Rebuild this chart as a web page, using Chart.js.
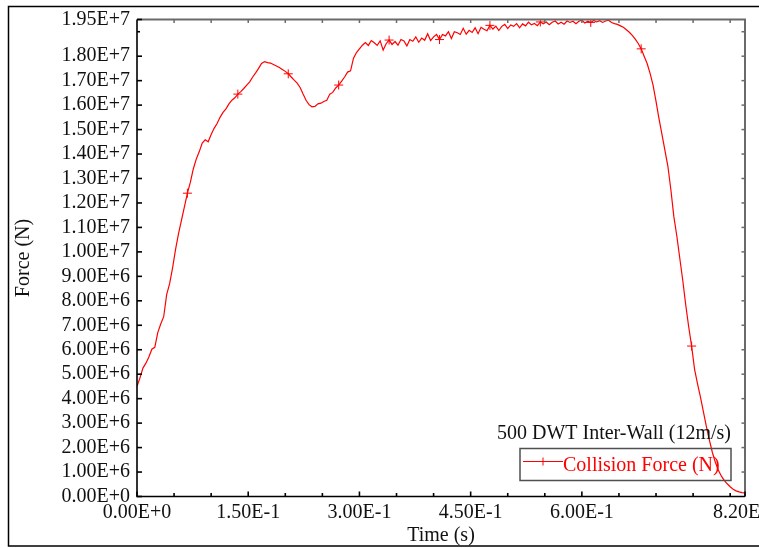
<!DOCTYPE html>
<html>
<head>
<meta charset="utf-8">
<title>500 DWT Inter-Wall (12m/s)</title>
<script src="https://cdn.jsdelivr.net/npm/chart.js@4.4.1/dist/chart.umd.min.js"></script>
<style>
  html, body { margin: 0; padding: 0; background: #fff; }
  canvas { display: block; }
</style>
</head>
<body>
<canvas id="chart" width="759" height="548"></canvas>
<script>
// Sample times (s)
const time = [
  0, 0.004, 0.008, 0.012, 0.016, 0.02, 0.024, 0.028, 0.032, 0.036,
  0.04, 0.044, 0.048, 0.052, 0.056, 0.06, 0.064, 0.068, 0.072, 0.076,
  0.08, 0.084, 0.088, 0.092, 0.096, 0.1, 0.104, 0.108, 0.112, 0.116,
  0.12, 0.124, 0.128, 0.132, 0.136, 0.14, 0.144, 0.148, 0.152, 0.156,
  0.16, 0.164, 0.168, 0.172, 0.176, 0.18, 0.184, 0.188, 0.192, 0.196,
  0.2, 0.204, 0.208, 0.212, 0.216, 0.22, 0.224, 0.228, 0.232, 0.236,
  0.24, 0.244, 0.248, 0.252, 0.256, 0.26, 0.264, 0.268, 0.272, 0.276,
  0.28, 0.284, 0.288, 0.292, 0.296, 0.3, 0.304, 0.308, 0.312, 0.316,
  0.32, 0.324, 0.328, 0.332, 0.336, 0.34, 0.344, 0.348, 0.352, 0.356,
  0.36, 0.364, 0.368, 0.372, 0.376, 0.38, 0.384, 0.388, 0.392, 0.396,
  0.4, 0.404, 0.408, 0.412, 0.416, 0.42, 0.424, 0.428, 0.432, 0.436,
  0.44, 0.444, 0.448, 0.452, 0.456, 0.46, 0.464, 0.468, 0.472, 0.476,
  0.48, 0.484, 0.488, 0.492, 0.496, 0.5, 0.504, 0.508, 0.512, 0.516,
  0.52, 0.524, 0.528, 0.532, 0.536, 0.54, 0.544, 0.548, 0.552, 0.556,
  0.56, 0.564, 0.568, 0.572, 0.576, 0.58, 0.584, 0.588, 0.592, 0.596,
  0.6, 0.604, 0.608, 0.612, 0.616, 0.62, 0.624, 0.628, 0.632, 0.636,
  0.64, 0.644, 0.648, 0.652, 0.656, 0.66, 0.664, 0.668, 0.672, 0.676,
  0.68, 0.684, 0.688, 0.692, 0.696, 0.7, 0.704, 0.708, 0.712, 0.716,
  0.72, 0.724, 0.728, 0.732, 0.736, 0.74, 0.744, 0.748, 0.752, 0.756,
  0.76, 0.764, 0.768, 0.772, 0.776, 0.78, 0.784, 0.788, 0.792, 0.796,
  0.8, 0.804, 0.808, 0.812, 0.816, 0.82
];

// Collision force (N)
const collisionForce = [
  4.50e6, 4.85e6, 5.25e6, 5.45e6, 5.70e6, 6.02e6, 6.10e6, 6.70e6, 7.05e6, 7.35e6,
  8.25e6, 8.70e6, 9.35e6, 10.10e6, 10.75e6, 11.30e6, 11.85e6, 12.40e6, 12.85e6, 13.40e6,
  13.80e6, 14.10e6, 14.45e6, 14.58e6, 14.50e6, 14.80e6, 15.05e6, 15.25e6, 15.50e6, 15.70e6,
  15.85e6, 16.05e6, 16.20e6, 16.30e6, 16.45e6, 16.55e6, 16.68e6, 16.82e6, 16.95e6, 17.15e6,
  17.32e6, 17.50e6, 17.70e6, 17.78e6, 17.74e6, 17.72e6, 17.66e6, 17.60e6, 17.54e6, 17.46e6,
  17.38e6, 17.28e6, 17.15e6, 17.02e6, 16.90e6, 16.72e6, 16.45e6, 16.20e6, 16.02e6, 15.93e6,
  15.95e6, 16.05e6, 16.08e6, 16.15e6, 16.20e6, 16.45e6, 16.52e6, 16.70e6, 16.82e6, 16.98e6,
  17.15e6, 17.35e6, 17.40e6, 17.92e6, 18.15e6, 18.30e6, 18.45e6, 18.56e6, 18.44e6, 18.64e6,
  18.55e6, 18.44e6, 18.63e6, 18.25e6, 18.51e6, 18.66e6, 18.48e6, 18.60e6, 18.45e6, 18.68e6,
  18.62e6, 18.42e6, 18.68e6, 18.61e6, 18.79e6, 18.57e6, 18.74e6, 18.65e6, 18.92e6, 18.64e6,
  18.79e6, 18.89e6, 18.68e6, 18.89e6, 18.83e6, 19.00e6, 18.72e6, 19.00e6, 18.96e6, 18.89e6,
  19.14e6, 18.90e6, 19.06e6, 18.97e6, 19.16e6, 18.92e6, 19.18e6, 19.10e6, 19.04e6, 19.26e6,
  19.11e6, 19.23e6, 19.05e6, 19.22e6, 19.30e6, 19.13e6, 19.28e6, 19.22e6, 19.33e6, 19.16e6,
  19.32e6, 19.24e6, 19.39e6, 19.28e6, 19.34e6, 19.25e6, 19.40e6, 19.32e6, 19.40e6, 19.29e6,
  19.39e6, 19.44e6, 19.32e6, 19.39e6, 19.31e6, 19.44e6, 19.38e6, 19.43e6, 19.33e6, 19.43e6,
  19.47e6, 19.36e6, 19.43e6, 19.38e6, 19.46e6, 19.40e6, 19.45e6, 19.38e6, 19.44e6, 19.47e6,
  19.38e6, 19.33e6, 19.30e6, 19.24e6, 19.18e6, 19.08e6, 18.98e6, 18.85e6, 18.70e6, 18.52e6,
  18.30e6, 18.00e6, 17.70e6, 17.30e6, 16.82e6, 16.15e6, 15.45e6, 14.80e6, 14.15e6, 13.50e6,
  12.55e6, 11.45e6, 10.66e6, 9.75e6, 8.85e6, 7.85e6, 6.95e6, 6.15e6, 5.20e6, 4.60e6,
  4.05e6, 3.45e6, 2.85e6, 2.30e6, 1.80e6, 1.40e6, 1.08e6, 0.84e6, 0.66e6, 0.52e6,
  0.40e6, 0.30e6, 0.23e6, 0.19e6, 0.16e6, 0.15e6
];

// Samples that carry a "+" symbol
const markerIndex = [17, 34, 51, 68, 85, 102, 119, 136, 153, 170, 187];

// Axis ticks
const yMajorTicks = [0, 1e6, 2e6, 3e6, 4e6, 5e6, 6e6, 7e6, 8e6, 9e6, 10e6, 11e6, 12e6,
                     13e6, 14e6, 15e6, 16e6, 17e6, 18e6, 19.5e6];
const yMinorTicks = [19e6];
const xMajorTicks = [0, 0.15, 0.3, 0.45, 0.6, 0.82];
const xMinorTicks = [0.05, 0.1, 0.2, 0.25, 0.35, 0.4, 0.5, 0.55, 0.65, 0.7, 0.75, 0.8];

const seriesLabel = 'Collision Force (N)';
const legendTitle = '500 DWT Inter-Wall (12m/s)';

const FONT = 'Liberation Serif, Times New Roman, serif';
const fmt = v => Number(v).toExponential(2).toUpperCase();

Chart.defaults.font.family = FONT;
Chart.defaults.font.size = 20;
Chart.defaults.color = '#111';

// Frame, inward tick marks, outer border and boxed legend
const framePlugin = {
  id: 'framePlugin',
  beforeDraw(chart) {
    const { ctx, width } = chart;
    ctx.save();
    ctx.fillStyle = '#fff';
    ctx.fillRect(0, 0, chart.width, chart.height);
    ctx.strokeStyle = '#000';
    ctx.lineWidth = 1.5;
    ctx.strokeRect(8.5, 6.5, width + 20, 539.5);
    ctx.restore();
  },
  afterDraw(chart) {
    const { ctx, chartArea: a, scales: { x, y } } = chart;
    const seg = (x1, y1, x2, y2) => { ctx.beginPath(); ctx.moveTo(x1, y1); ctx.lineTo(x2, y2); ctx.stroke(); };
    ctx.save();

    // top and right frame (grey) with mirrored ticks
    ctx.strokeStyle = '#6a6a6a';
    ctx.lineWidth = 2;
    ctx.beginPath();
    ctx.moveTo(a.left, a.top); ctx.lineTo(a.right, a.top); ctx.lineTo(a.right, a.bottom);
    ctx.stroke();
    ctx.lineWidth = 1.5;
    [...xMajorTicks, ...xMinorTicks].forEach(v => {
      const px = x.getPixelForValue(v);
      if (px > a.left + 2 && px < a.right - 2) seg(px, a.top, px, a.top + 3.5);
    });
    [...yMajorTicks, ...yMinorTicks].forEach(v => {
      const py = y.getPixelForValue(v);
      if (py > a.top + 2 && py < a.bottom - 2) seg(a.right, py, a.right - 3.5, py);
    });

    // left and bottom axes (black) with inward ticks
    ctx.strokeStyle = '#000';
    ctx.lineWidth = 1.6;
    ctx.beginPath();
    ctx.moveTo(a.left, a.top); ctx.lineTo(a.left, a.bottom); ctx.lineTo(a.right, a.bottom);
    ctx.stroke();
    yMajorTicks.forEach(v => { const py = y.getPixelForValue(v); seg(a.left, py, a.left + 5, py); });
    yMinorTicks.forEach(v => { const py = y.getPixelForValue(v); seg(a.left, py, a.left + 3, py); });
    xMajorTicks.forEach(v => { const px = x.getPixelForValue(v); seg(px, a.bottom, px, a.bottom - 5); });
    xMinorTicks.forEach(v => { const px = x.getPixelForValue(v); seg(px, a.bottom, px, a.bottom - 3.5); });

    // legend: title line + boxed entry
    const ds = chart.data.datasets[0];
    const boxRight = a.right - 14, boxTop = a.bottom - 48, boxH = 32, boxW = 211;
    const boxLeft = boxRight - boxW;
    ctx.font = '20px ' + FONT;
    ctx.textBaseline = 'middle';
    ctx.textAlign = 'right';
    ctx.fillStyle = '#111';
    ctx.fillText(legendTitle, boxRight, boxTop - 15);

    ctx.strokeStyle = '#505050';
    ctx.lineWidth = 1.5;
    ctx.strokeRect(boxLeft, boxTop, boxW, boxH);

    const ly = boxTop + 13;
    ctx.strokeStyle = ds.borderColor;
    ctx.lineWidth = 1;
    seg(boxLeft + 3, ly, boxLeft + 43, ly);
    seg(boxLeft + 23, ly - 4, boxLeft + 23, ly + 4);
    seg(boxLeft + 19, ly, boxLeft + 27, ly);

    ctx.textAlign = 'left';
    ctx.fillStyle = ds.borderColor;
    ctx.fillText(ds.label, boxLeft + 43, boxTop + 17);
    ctx.restore();
  }
};

new Chart(document.getElementById('chart'), {
  type: 'line',
  data: {
    labels: time,
    datasets: [{
      label: seriesLabel,
      data: collisionForce,
      borderColor: '#ff0000',
      backgroundColor: '#ff0000',
      borderWidth: 1.2,
      tension: 0,
      fill: false,
      pointStyle: 'cross',
      pointRadius: ctx => markerIndex.includes(ctx.dataIndex) ? 4.5 : 0,
      pointHoverRadius: 0,
      pointBorderColor: '#ff0000',
      pointBorderWidth: 1
    }]
  },
  options: {
    responsive: false,
    animation: false,
    events: [],
    layout: { padding: { top: 19.5, right: 14, bottom: 0, left: 0 } },
    plugins: {
      legend: { display: false },
      tooltip: { enabled: false }
    },
    scales: {
      x: {
        type: 'linear',
        min: 0,
        max: 0.82,
        grid: { display: false, drawTicks: false },
        border: { display: false },
        afterBuildTicks: s => { s.ticks = xMajorTicks.map(v => ({ value: v })); },
        afterFit: s => { s.height = 51.5; s.paddingLeft = 0; s.paddingRight = 0; },
        ticks: {
          autoSkip: false,
          maxRotation: 0,
          minRotation: 0,
          padding: 4,
          color: '#111',
          callback: v => fmt(v)
        },
        title: {
          display: true,
          text: 'Time (s)',
          color: '#111',
          padding: { top: 0, bottom: 0 }
        }
      },
      y: {
        type: 'linear',
        min: 0,
        max: 19.5e6,
        grid: { display: false, drawTicks: false },
        border: { display: false },
        afterBuildTicks: s => { s.ticks = yMajorTicks.map(v => ({ value: v })); },
        afterFit: s => { s.width = 137; s.paddingTop = 0; s.paddingBottom = 0; },
        ticks: {
          autoSkip: false,
          padding: 7,
          color: '#111',
          callback: v => fmt(v)
        },
        title: {
          display: true,
          text: 'Force (N)',
          color: '#111',
          padding: { top: 12, bottom: 0 }
        }
      }
    }
  },
  plugins: [framePlugin]
});
</script>
</body>
</html>
